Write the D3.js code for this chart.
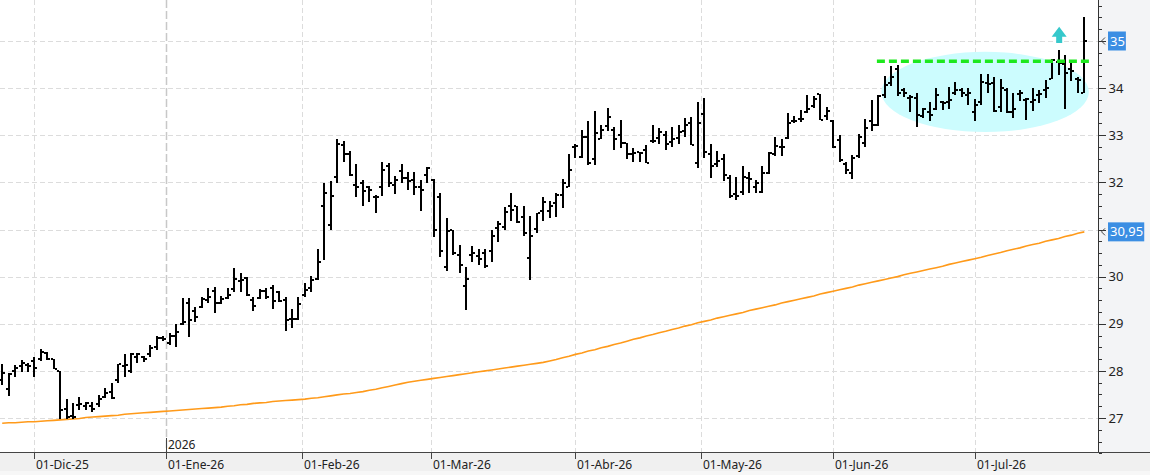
<!DOCTYPE html>
<html>
<head>
<meta charset="utf-8">
<script src="https://cdn.jsdelivr.net/npm/d3@7"></script>
<style>
html, body { margin: 0; padding: 0; background: #fff; overflow: hidden; }
svg { display: block; font-family: "Noto Sans", "Open Sans", sans-serif; }
</style>
</head>
<body>
<script>
//wrap everything in a self-executing function
(function(){

//daily OHLC, one value per trading day, starting 24-Nov-2025
var opens = [
  27.80, 27.62, 28.00, 28.10, 28.12, 28.20, 28.25, 28.38, 28.25, 28.00,
  27.20, 27.05, 27.27, 27.25, 27.25, 27.30, 27.45, 27.55, 27.80, 28.10,
  28.00, 28.30, 28.30, 28.35, 28.50, 28.70, 28.60, 28.75, 29.00, 29.45,
  29.26, 29.35, 29.50, 29.70, 29.45, 29.55, 29.73, 29.90, 29.98, 29.50,
  29.55, 29.70, 29.75, 29.68, 29.50, 29.10, 29.10, 29.62, 29.75, 29.95,
  31.49, 31.10, 32.11, 32.80, 32.60, 31.95, 31.98, 31.90, 31.70, 31.90,
  32.35, 31.95, 32.25, 32.10, 32.05, 31.90, 32.16, 32.05, 31.70, 30.21,
  30.98, 30.45, 29.80, 30.45, 30.44, 30.50, 30.55, 31.03, 31.05, 31.50,
  31.49, 31.26, 30.39, 31.02, 31.40, 31.40, 31.56, 31.73, 31.90, 32.76,
  32.53, 32.96, 32.50, 32.93, 33.20, 33.12, 33.00, 32.84, 32.60, 32.65,
  32.69, 32.87, 32.95, 33.00, 32.85, 32.95, 33.10, 33.27, 32.41, 33.46,
  32.60, 32.40, 32.50, 32.10, 31.75, 31.80, 32.10, 31.90, 31.79, 32.19,
  32.60, 32.75, 32.95, 33.30, 33.35, 33.50, 33.62, 33.88, 33.40, 33.30,
  32.90, 32.40, 32.20, 32.55, 32.83, 33.30, 33.22, 33.85, 34.10, 34.40,
  33.95, 33.80, 33.80, 33.40, 33.50, 33.55, 33.70, 33.70, 33.90, 33.95,
  33.85, 33.50, 33.70, 34.10, 34.10, 33.60, 33.95, 33.50, 33.88, 33.75,
  33.70, 33.85, 33.95, 34.19, 34.55, 34.51, 34.40, 34.20, 33.90
];
var highs = [
  28.15, 27.96, 28.12, 28.24, 28.17, 28.30, 28.46, 28.41, 28.26, 28.00,
  27.41, 27.32, 27.45, 27.33, 27.33, 27.49, 27.63, 27.74, 28.15, 28.36,
  28.37, 28.37, 28.32, 28.55, 28.73, 28.74, 28.81, 29.00, 29.54, 29.55,
  29.35, 29.56, 29.75, 29.77, 29.59, 29.75, 30.18, 30.07, 30.00, 29.57,
  29.73, 29.75, 29.82, 29.70, 29.56, 29.31, 29.56, 29.86, 30.01, 30.58,
  31.99, 32.03, 32.91, 32.88, 32.67, 32.39, 32.05, 31.92, 31.73, 32.44,
  32.41, 32.13, 32.39, 32.21, 32.21, 32.04, 32.33, 32.08, 31.77, 31.24,
  30.99, 30.67, 30.20, 30.65, 30.59, 30.59, 31.00, 31.19, 31.47, 31.78,
  31.50, 31.50, 31.29, 31.36, 31.68, 31.61, 31.78, 32.08, 32.60, 32.81,
  33.11, 33.31, 33.52, 33.22, 33.57, 33.17, 33.32, 32.84, 32.74, 32.65,
  32.79, 33.22, 33.15, 33.08, 33.17, 33.22, 33.36, 33.38, 33.71, 33.78,
  32.81, 32.67, 32.60, 32.16, 32.11, 32.35, 32.23, 32.06, 32.35, 32.65,
  32.97, 32.93, 33.47, 33.41, 33.54, 33.85, 33.83, 33.88, 33.59, 33.32,
  33.00, 32.44, 32.58, 33.03, 33.34, 33.75, 33.85, 34.26, 34.47, 34.49,
  34.00, 33.86, 33.89, 33.57, 33.71, 34.00, 33.73, 34.02, 34.14, 34.01,
  34.00, 33.76, 34.30, 34.30, 34.23, 34.19, 34.00, 33.89, 33.96, 33.79,
  34.00, 33.96, 34.17, 34.61, 34.81, 34.70, 34.53, 34.24, 35.51
];
var lows = [
  27.71, 27.47, 27.86, 27.98, 27.98, 27.88, 28.20, 28.24, 28.03, 26.97,
  26.97, 26.97, 27.17, 27.16, 27.12, 27.24, 27.42, 27.40, 27.75, 27.88,
  27.95, 28.16, 28.18, 28.29, 28.44, 28.63, 28.55, 28.51, 28.97, 28.71,
  29.04, 29.33, 29.45, 29.22, 29.41, 29.52, 29.68, 29.68, 29.59, 29.26,
  29.52, 29.52, 29.31, 29.47, 28.85, 28.92, 29.08, 29.56, 29.68, 29.92,
  30.35, 31.00, 31.99, 32.44, 32.14, 31.70, 31.49, 31.59, 31.35, 31.71,
  31.90, 31.75, 31.98, 31.83, 31.74, 31.40, 31.98, 30.85, 30.42, 30.11,
  30.46, 30.07, 29.30, 30.30, 30.24, 30.18, 30.32, 30.74, 31.00, 31.19,
  31.14, 30.86, 29.92, 30.92, 31.19, 31.24, 31.27, 31.45, 31.90, 32.51,
  32.51, 32.37, 32.37, 32.93, 33.10, 32.68, 32.72, 32.49, 32.44, 32.44,
  32.41, 32.84, 32.81, 32.68, 32.76, 32.81, 32.97, 32.79, 32.30, 32.51,
  32.09, 32.32, 32.02, 31.66, 31.63, 31.73, 31.77, 31.77, 31.78, 32.18,
  32.56, 32.56, 32.93, 33.25, 33.29, 33.48, 33.57, 33.32, 33.32, 32.74,
  32.44, 32.18, 32.07, 32.51, 32.76, 33.10, 33.20, 33.79, 34.05, 33.83,
  33.81, 33.50, 33.17, 33.36, 33.30, 33.54, 33.54, 33.55, 33.86, 33.81,
  33.64, 33.31, 33.64, 33.89, 33.50, 33.50, 33.47, 33.36, 33.72, 33.33,
  33.52, 33.68, 33.80, 34.19, 34.28, 33.55, 34.16, 33.90, 33.90
];
var closes = [
  27.96, 27.94, 28.07, 28.16, 28.10, 28.07, 28.41, 28.26, 28.04, 27.18,
  27.02, 27.03, 27.30, 27.31, 27.19, 27.40, 27.52, 27.42, 28.14, 28.12,
  28.36, 28.36, 28.25, 28.48, 28.69, 28.68, 28.73, 28.83, 29.03, 29.08,
  29.15, 29.53, 29.57, 29.43, 29.52, 29.61, 29.96, 29.93, 29.60, 29.38,
  29.70, 29.57, 29.49, 29.49, 29.09, 29.11, 29.42, 29.72, 29.93, 30.32,
  31.77, 31.72, 32.81, 32.60, 32.16, 31.91, 31.82, 31.84, 31.68, 32.27,
  31.99, 32.04, 32.10, 32.02, 31.90, 31.83, 32.31, 31.00, 30.55, 30.97,
  30.50, 30.25, 29.94, 30.51, 30.37, 30.23, 30.86, 31.12, 31.37, 31.41,
  31.15, 30.92, 30.86, 31.34, 31.58, 31.50, 31.73, 31.99, 32.26, 32.77,
  32.96, 32.42, 33.04, 33.12, 33.38, 32.93, 32.84, 32.60, 32.63, 32.62,
  32.42, 32.87, 33.06, 32.82, 32.91, 33.06, 33.22, 32.80, 33.27, 32.65,
  32.35, 32.46, 32.16, 31.71, 31.71, 32.11, 32.07, 31.98, 32.19, 32.63,
  32.77, 32.76, 33.27, 33.31, 33.34, 33.55, 33.76, 33.32, 33.52, 32.76,
  32.47, 32.26, 32.51, 32.97, 33.15, 33.22, 33.83, 34.07, 34.24, 33.90,
  33.90, 33.81, 33.43, 33.55, 33.43, 33.86, 33.69, 33.74, 33.96, 33.90,
  33.90, 33.64, 34.14, 34.09, 33.52, 34.00, 33.50, 33.55, 33.90, 33.76,
  33.74, 33.88, 34.00, 34.60, 34.53, 34.32, 34.37, 34.17, 35.00
];
//long moving average (orange line), one value per bar
var movingAvg = [
  26.89, 26.90, 26.90, 26.91, 26.92, 26.92, 26.93, 26.94, 26.95, 26.96,
  26.97, 26.98, 26.99, 27.01, 27.02, 27.03, 27.04, 27.05, 27.06, 27.08,
  27.09, 27.10, 27.11, 27.12, 27.13, 27.14, 27.15, 27.16, 27.17, 27.18,
  27.19, 27.20, 27.21, 27.22, 27.23, 27.25, 27.26, 27.28, 27.29, 27.31,
  27.32, 27.33, 27.35, 27.36, 27.37, 27.38, 27.39, 27.40, 27.42, 27.43,
  27.45, 27.47, 27.49, 27.51, 27.52, 27.54, 27.56, 27.59, 27.61, 27.64,
  27.67, 27.70, 27.73, 27.76, 27.78, 27.80, 27.82, 27.84, 27.86, 27.88,
  27.90, 27.92, 27.94, 27.96, 27.98, 28.00, 28.02, 28.04, 28.06, 28.08,
  28.10, 28.12, 28.14, 28.16, 28.18, 28.21, 28.24, 28.28, 28.31, 28.35,
  28.38, 28.42, 28.45, 28.49, 28.52, 28.56, 28.59, 28.63, 28.67, 28.70,
  28.74, 28.77, 28.81, 28.84, 28.88, 28.91, 28.95, 28.98, 29.02, 29.05,
  29.08, 29.12, 29.15, 29.18, 29.21, 29.24, 29.28, 29.31, 29.34, 29.37,
  29.40, 29.44, 29.47, 29.50, 29.53, 29.56, 29.59, 29.63, 29.66, 29.69,
  29.72, 29.75, 29.78, 29.82, 29.85, 29.88, 29.91, 29.94, 29.97, 30.00,
  30.04, 30.07, 30.10, 30.13, 30.16, 30.19, 30.22, 30.26, 30.29, 30.32,
  30.35, 30.38, 30.41, 30.45, 30.48, 30.51, 30.55, 30.58, 30.61, 30.65,
  30.68, 30.71, 30.75, 30.78, 30.81, 30.85, 30.88, 30.92, 30.95
];

//calendar
var firstDay = "2025-11-24", lastDay = "2026-07-24";
var holidays = ["2025-12-25", "2025-12-26", "2026-01-01", "2026-04-03", "2026-04-06", "2026-05-01"];
var monthLabels = ["01-Dic-25", "01-Ene-26", "01-Feb-26", "01-Mar-26", "01-Abr-26", "01-May-26", "01-Jun-26", "01-Jul-26"];
var yearLabel = "2026";

//price axis
var priceTicks = [27, 28, 29, 30, 31, 32, 33, 34, 35];
var markedPrices = [35, 30.95];
var markedLabels = ["35", "30,95"];

//drawn annotations (bar index / price)
var resistanceLevel = 34.57, resistanceSpan = [135.8, 168.9];
var zoneCenter = [152.6, 33.92], zoneRadius = [16.1, 0.85];
var arrowBar = 164.1, arrowSpan = [34.96, 35.30];

//frame
var width = 1150, height = 475,
    plotRight = 1098, plotBottom = 452;

var fmt = d3.timeFormat("%Y-%m-%d"), parse = d3.timeParse("%Y-%m-%d");

//trading days (weekdays that are not holidays)
var days = d3.timeDay.range(parse(firstDay), d3.timeDay.offset(parse(lastDay), 1))
    .filter(function(d){ return d.getDay() % 6 !== 0 && holidays.indexOf(fmt(d)) < 0; });

var x = d3.scaleLinear()
    .domain([0, closes.length - 1])
    .range([2.2, 1084.3]);

var y = d3.scaleLinear()
    .domain([27, 35])
    .range([418, 41]);

var svg = d3.select("body").append("svg")
    .attr("width", width)
    .attr("height", height);

svg.append("defs").append("clipPath").attr("id", "plotClip")
    .append("rect").attr("width", plotRight).attr("height", plotBottom);

//backgrounds
svg.append("rect").attr("width", width).attr("height", height).attr("fill", "#fff");
svg.append("rect").attr("x", plotRight).attr("width", width - plotRight).attr("height", plotBottom).attr("fill", "#f3f4f6");
svg.append("rect").attr("y", plotBottom).attr("width", width).attr("height", height - plotBottom).attr("fill", "#f0f0f0");
svg.append("rect").attr("y", 471).attr("width", width).attr("height", 4).attr("fill", "#f7f7f7");

var plot = svg.append("g").attr("clip-path", "url(#plotClip)");

//month tick positions (half a bar back when the 1st is not a trading day)
var months = d3.timeMonth.range(new Date(2025, 11, 1), new Date(2026, 7, 1));
var monthPos = months.map(function(m){
    var k = days.findIndex(function(d){ return d >= m; });
    return fmt(days[k]) === fmt(m) ? k : k - 0.5;
});

//horizontal grid
plot.selectAll(".hgrid")
    .data(priceTicks)
    .enter().append("line")
    .attr("x1", 0).attr("x2", plotRight)
    .attr("y1", function(d){ return Math.round(y(d)) + 0.5; })
    .attr("y2", function(d){ return Math.round(y(d)) + 0.5; })
    .attr("stroke", "#dcdcdc")
    .attr("stroke-dasharray", "5,3");

//vertical grid
plot.selectAll(".vgrid")
    .data(monthPos)
    .enter().append("line")
    .attr("x1", function(d){ return Math.round(x(d)) + 0.5; })
    .attr("x2", function(d){ return Math.round(x(d)) + 0.5; })
    .attr("y1", 0).attr("y2", plotBottom)
    .attr("stroke", function(d, i){ return i === 1 ? "#c8c8c8" : "#dcdcdc"; })
    .attr("stroke-width", function(d, i){ return i === 1 ? 1.5 : 1; })
    .attr("stroke-dasharray", function(d, i){ return i === 1 ? "8,3" : "5,3"; });

//highlighted zone
plot.append("ellipse")
    .attr("cx", x(zoneCenter[0]))
    .attr("cy", y(zoneCenter[1]))
    .attr("rx", x(zoneRadius[0]) - x(0))
    .attr("ry", y(0) - y(zoneRadius[1]))
    .attr("fill", "#ccfcfe");

//moving average
plot.append("path")
    .datum(movingAvg)
    .attr("d", d3.line()
        .x(function(d, i){ return x(i); })
        .y(function(d){ return y(d); }))
    .attr("fill", "none")
    .attr("stroke", "#ff9a1a")
    .attr("stroke-width", 1.6);

//ohlc bars
var bars = plot.selectAll(".bar")
    .data(closes.map(function(c, i){ return {i: i, o: opens[i], h: highs[i], l: lows[i], c: c}; }))
    .enter().append("g")
    .attr("class", "bar")
    .attr("shape-rendering", "crispEdges");

bars.append("rect")
    .attr("x", function(d){ return Math.round(x(d.i)) - 1; })
    .attr("y", function(d){ return Math.round(y(d.h)); })
    .attr("width", 2)
    .attr("height", function(d){ return Math.max(2, Math.round(y(d.l)) - Math.round(y(d.h))); })
    .attr("fill", "#000");

bars.append("rect")
    .attr("x", function(d){ return Math.round(x(d.i)) - 3; })
    .attr("y", function(d){ return Math.round(y(d.o)) - 1; })
    .attr("width", 2).attr("height", 2)
    .attr("fill", "#000");

bars.append("rect")
    .attr("x", function(d){ return Math.round(x(d.i)) + 1; })
    .attr("y", function(d){ return Math.round(y(d.c)) - 1; })
    .attr("width", 2).attr("height", 2)
    .attr("fill", "#000");

//resistance line
plot.append("line")
    .attr("x1", x(resistanceSpan[0])).attr("x2", x(resistanceSpan[1]))
    .attr("y1", y(resistanceLevel)).attr("y2", y(resistanceLevel))
    .attr("stroke", "#1ee81e")
    .attr("stroke-width", 3.5)
    .attr("stroke-dasharray", "8,4");

//up arrow
var ax = x(arrowBar), aTop = y(arrowSpan[1]), aBot = y(arrowSpan[0]);
plot.append("path")
    .attr("d", "M" + ax + "," + aTop +
        "L" + (ax + 7.5) + "," + (aTop + 10) +
        "L" + (ax + 3) + "," + (aTop + 10) +
        "L" + (ax + 3) + "," + aBot +
        "L" + (ax - 3) + "," + aBot +
        "L" + (ax - 3) + "," + (aTop + 10) +
        "L" + (ax - 7.5) + "," + (aTop + 10) + "Z")
    .attr("fill", "#36c8cb");

//right price axis (labels hidden where a marked price box sits)
var hidden = function(v){
    return markedPrices.some(function(p){ return Math.abs(y(p) - y(v)) < 14; });
};
var minorAxis = d3.axisRight(y)
    .tickValues(d3.range(26.25, 35.9, 0.25))
    .tickSize(3)
    .tickFormat("");
var majorAxis = d3.axisRight(y)
    .tickValues(priceTicks)
    .tickSize(7)
    .tickPadding(4)
    .tickFormat(function(d){ return hidden(d) ? "" : d; });

[minorAxis, majorAxis].forEach(function(ax){
    var g = svg.append("g")
        .attr("transform", "translate(" + (plotRight + 0.5) + ",0)")
        .call(ax);
    g.select(".domain").remove();
    g.selectAll("line").attr("stroke", "#333").attr("shape-rendering", "crispEdges");
    g.selectAll("text").attr("fill", "#222").style("font-size", "13px")
        .style("font-family", "\"Noto Sans\", sans-serif").attr("x", 10);
});

svg.append("line")
    .attr("x1", plotRight + 0.5).attr("x2", plotRight + 0.5)
    .attr("y1", 0).attr("y2", plotBottom)
    .attr("stroke", "#333");

//marked prices (last close and moving average)
markedPrices.forEach(function(p, i){
    var g = svg.append("g").attr("transform", "translate(0," + y(p) + ")");
    var t = g.append("text")
        .attr("x", 1110).attr("y", 0).attr("dy", "0.35em")
        .attr("fill", "#fff")
        .style("font-size", "13px")
        .text(markedLabels[i]);
    var w = t.node().getComputedTextLength();
    g.insert("rect", "text")
        .attr("x", 1108).attr("y", -9.5)
        .attr("width", w + 3).attr("height", 19)
        .attr("fill", "#3b8ee3");
    g.append("path")
        .attr("d", "M1105,-3.5L1101.5,0L1105,3.5")
        .attr("fill", "none").attr("stroke", "#444");
});

//bottom time axis
svg.append("line")
    .attr("x1", 0).attr("x2", width)
    .attr("y1", plotBottom + 0.5).attr("y2", plotBottom + 0.5)
    .attr("stroke", "#444");

var timeTicks = svg.selectAll(".month")
    .data(monthPos)
    .enter().append("g")
    .attr("transform", function(d){ return "translate(" + (Math.round(x(d)) + 0.5) + ",0)"; });

timeTicks.append("line")
    .attr("y1", plotBottom).attr("y2", plotBottom + 7)
    .attr("stroke", "#444");

timeTicks.append("text")
    .attr("x", 1.5).attr("y", 469)
    .attr("fill", "#222")
    .style("font-size", "12px")
    .text(function(d, i){ return monthLabels[i]; });

//year separator
var yearX = Math.round(x(monthPos[1])) + 0.5;
svg.append("line")
    .attr("x1", yearX).attr("x2", yearX)
    .attr("y1", 438).attr("y2", plotBottom)
    .attr("stroke", "#444");
svg.append("text")
    .attr("x", yearX + 1.5).attr("y", 449)
    .attr("fill", "#222")
    .style("font-size", "12px")
    .text(yearLabel);

})();
</script>
</body>
</html>
